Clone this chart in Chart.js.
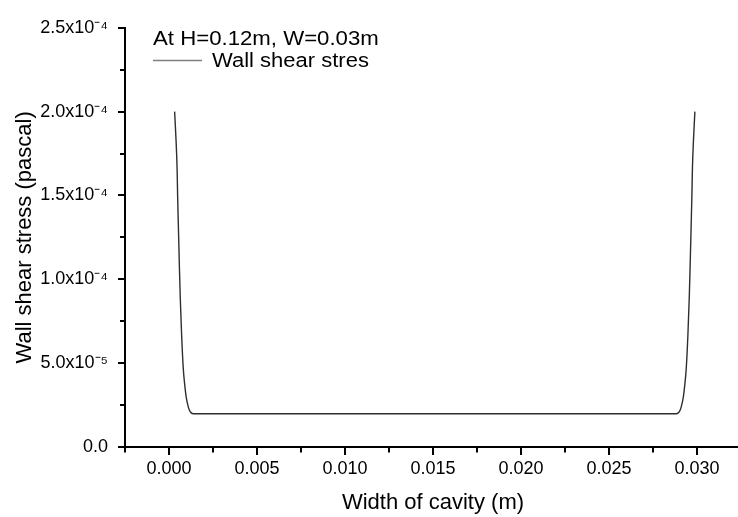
<!DOCTYPE html>
<html><head><meta charset="utf-8">
<script src="https://cdn.jsdelivr.net/npm/chart.js@4.4.1/dist/chart.umd.min.js"></script>
<style>
html,body{margin:0;padding:0;overflow:hidden;background:#fff;}
#wrap{position:relative;width:742px;height:517px;}
</style></head><body>
<div id="wrap"><canvas id="c"></canvas></div>
<script>
const seriesName = 'Wall shear stres';
const legendTitle = 'At H=0.12m, W=0.03m';
const xTitle = 'Width of cavity (m)';
const yTitle = 'Wall shear stress (pascal)';
const xTickLabels = ['0.000','0.005','0.010','0.015','0.020','0.025','0.030'];
const yTickLabels = ['0.0','5.0x10\u207B\u2075','1.0x10\u207B\u2074','1.5x10\u207B\u2074','2.0x10\u207B\u2074','2.5x10\u207B\u2074'];
const xStep = 0.005, yStep = 5e-5;

const widthPos = [0.00032,0.00040,0.00046,0.00049,0.00053,0.00059,0.00064,0.00072,0.00081,0.00089,0.00098,0.00110,0.00119,0.00125,0.00138,
  0.0050,0.0100,0.0150,0.0200,0.0250,
  0.02882,0.02895,0.02901,0.02910,0.02922,0.02931,0.02939,0.02948,0.02956,0.02961,0.02967,0.02971,0.02974,0.02980,0.02988];
const shearStress = [2.00e-4,1.83e-4,1.66e-4,1.50e-4,1.33e-4,1.08e-4,0.89e-4,0.66e-4,0.47e-4,0.375e-4,0.296e-4,0.238e-4,0.213e-4,0.205e-4,0.198e-4,
  0.198e-4,0.198e-4,0.198e-4,0.198e-4,0.198e-4,
  0.198e-4,0.205e-4,0.213e-4,0.238e-4,0.296e-4,0.375e-4,0.47e-4,0.66e-4,0.89e-4,1.08e-4,1.33e-4,1.50e-4,1.66e-4,1.83e-4,2.00e-4];

const FONT = 'Liberation Sans, Arial, sans-serif';

const tickMarks = {
  id: 'tickMarks',
  afterDraw(chart) {
    const {ctx, scales: {x, y}, chartArea: a} = chart;
    ctx.save();
    ctx.strokeStyle = '#000';
    ctx.lineWidth = 2;
    for (let k = -1; k <= 13; k++) {
      const px = Math.round(x.getPixelForValue(k * xStep / 2));
      const len = (k % 2 === 0) ? 8 : 5.5;
      ctx.beginPath(); ctx.moveTo(px, a.bottom); ctx.lineTo(px, a.bottom + len); ctx.stroke();
    }
    for (let k = 0; k <= 10; k++) {
      const py = Math.round(y.getPixelForValue(k * yStep / 2));
      const len = (k % 2 === 0) ? 7 : 5;
      ctx.beginPath(); ctx.moveTo(a.left - len, py); ctx.lineTo(a.left, py); ctx.stroke();
    }
    ctx.restore();
  }
};

const customLegend = {
  id: 'customLegend',
  afterDraw(chart) {
    const ctx = chart.ctx;
    const ds = chart.data.datasets[0];
    ctx.save();
    ctx.fillStyle = '#000';
    ctx.font = '20px ' + FONT;
    ctx.textBaseline = 'alphabetic';
    ctx.save(); ctx.translate(153, 45); ctx.scale(1.11, 1); ctx.fillText(legendTitle, 0, 0); ctx.restore();
    ctx.strokeStyle = '#808080';
    ctx.lineWidth = 1.5;
    ctx.beginPath(); ctx.moveTo(153, 60.5); ctx.lineTo(202, 60.5); ctx.stroke();
    ctx.save(); ctx.translate(212, 67); ctx.scale(1.1, 1); ctx.fillText(ds.label, 0, 0); ctx.restore();
    ctx.restore();
  }
};

new Chart(document.getElementById('c'), {
  type: 'line',
  data: {
    datasets: [{
      label: seriesName,
      data: widthPos.map((x, i) => ({x: x, y: shearStress[i]})),
      borderColor: '#2e2e2e',
      borderWidth: 1.4,
      pointRadius: 0,
      fill: false,
      cubicInterpolationMode: 'monotone'
    }]
  },
  options: {
    responsive: true,
    maintainAspectRatio: false,
    animation: false,
    devicePixelRatio: 1,
    layout: {padding: {top: 15, right: 1, left: 0, bottom: 0}},
    plugins: {legend: {display: false}, tooltip: {enabled: false}},
    scales: {
      x: {
        type: 'linear', min: -0.0025, max: 0.0325,
        afterBuildTicks: s => { s.ticks = xTickLabels.map((l, i) => ({value: i * xStep})); },
        afterFit: s => { s.height = 70; },
        ticks: {
          callback: v => xTickLabels[Math.round(v / xStep)],
          font: {family: FONT, size: 18}, color: '#000', padding: 11,
          maxRotation: 0, autoSkip: false
        },
        grid: {display: false, drawTicks: false},
        border: {display: true, color: '#000', width: 2},
        title: {display: true, text: xTitle, color: '#000', font: {family: FONT, size: 22}, padding: {top: 0, bottom: 1}}
      },
      y: {
        type: 'linear', min: 0, max: 2.5e-4,
        afterBuildTicks: s => { s.ticks = yTickLabels.map((l, i) => ({value: i * yStep})); },
        afterFit: s => { s.width = 125; },
        ticks: {
          callback: (v, i) => yTickLabels[i],
          font: {family: FONT, size: 18}, color: '#000', padding: 17, autoSkip: false
        },
        grid: {display: false, drawTicks: false},
        border: {display: true, color: '#000', width: 2},
        title: {display: true, text: yTitle, color: '#000', font: {family: FONT, size: 22}, padding: {top: 12, bottom: 0}}
      }
    }
  },
  plugins: [tickMarks, customLegend]
});
</script>
</body></html>
